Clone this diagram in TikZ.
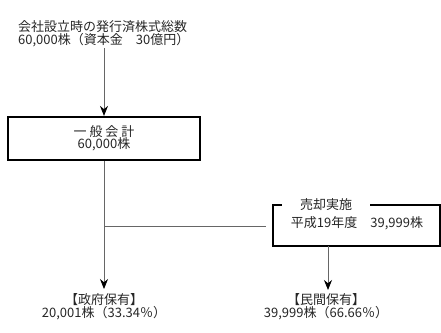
\documentclass[tikz,border=0pt]{standalone}
\usepackage{fontspec}
\setmainfont{Noto Sans CJK JP}
\usetikzlibrary{arrows.meta,calc}
\begin{document}
\begin{tikzpicture}[x=1pt,y=-1pt,
  every node/.style={font=\fontsize{13}{12.5}\selectfont, text=black!85, inner sep=0pt},
  conn/.style={draw=black!60, line width=0.9pt},
  arr/.style={conn, -{Stealth[black, length=10pt, width=8pt]}},
  frame/.style={draw=black, line width=2.2pt},
  lbl/.style={align=center}
]
\useasboundingbox (0,0) rectangle (441,332);
% top text
\node[anchor=west, align=left] (src) at (18,34) {会社設立時の発行済株式総数\\60,000株（資本金　30億円）};
\coordinate (srcb) at (104,48);
% general account box
\node[frame, minimum width=192pt, minimum height=43pt, align=center] (gen) at (104,138.5) {一 般 会 計\\60,000株};
\draw[arr] (srcb) -- (gen.north);
% government holding
\node[lbl] (gov) at (104,306.5) {【政府保有】\\20,001株（33.34％）};
\draw[arr] (gen.south) -- (104,289) coordinate (govt);
% junction
\coordinate (j) at (104,226);
\coordinate (hend) at (266,226);
\draw[conn] (j) -- (hend);
% sale box
\node[minimum width=167pt, minimum height=40pt] (salebox) at (356.5,225.5) {};
\draw[frame] (salebox.north west) rectangle (salebox.south east);
\node (saleinfo) at (357,223) {平成19年度　39,999株};
\node[fill=white, minimum width=88pt, minimum height=6pt] (saletitle) at (326,205) {売却実施};
% private holding
\coordinate (sb) at (328,246);
\node[lbl] (priv) at (326,306.5) {【民間保有】\\39,999株（66.66％）};
\draw[arr] (sb) -- (328,290) coordinate (privt);
\end{tikzpicture}
\end{document}
